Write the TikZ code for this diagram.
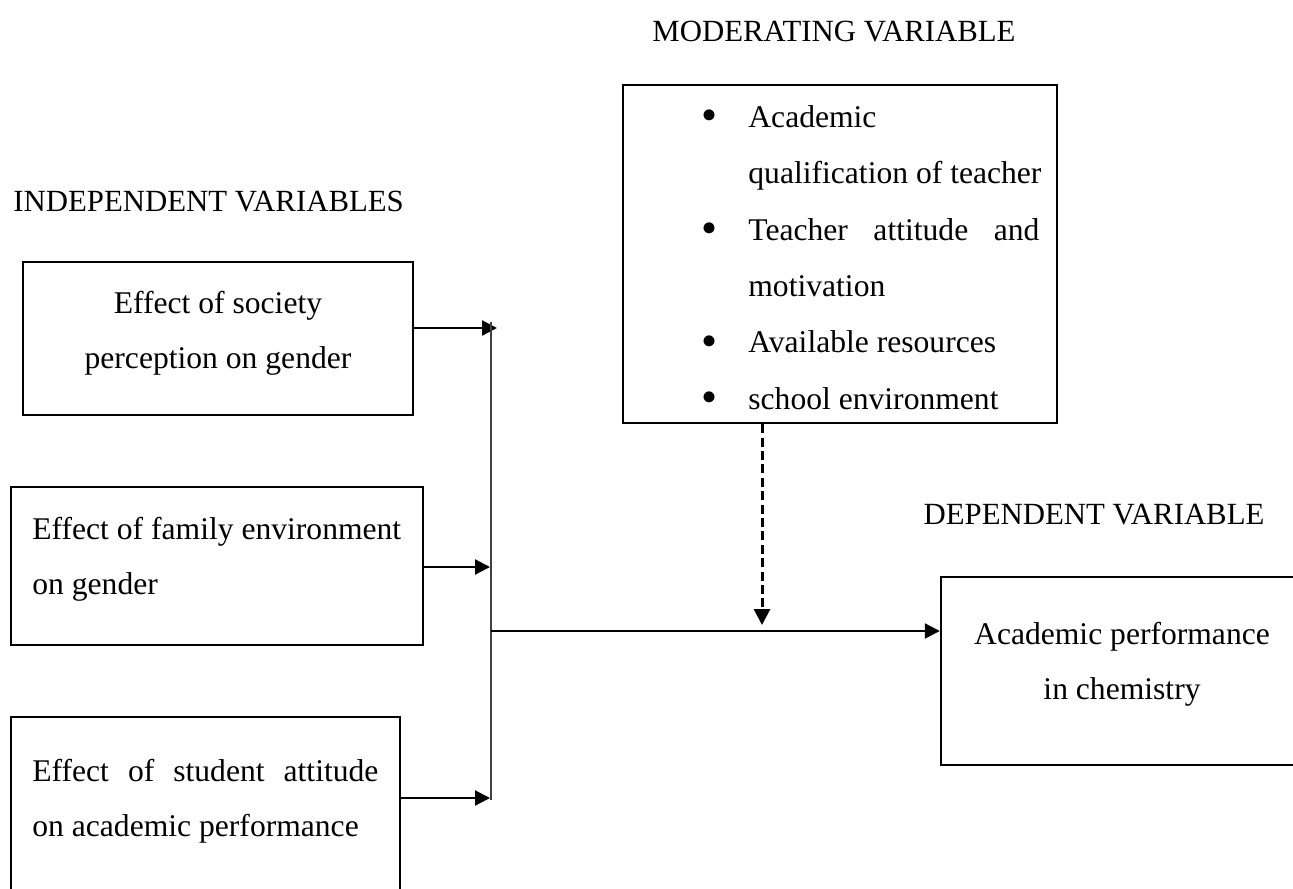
\documentclass[tikz,border=0pt]{standalone}
\usepackage{fontspec}
\setmainfont{Liberation Serif}
\usetikzlibrary{arrows.meta}
\newcommand{\mbul}{\makebox[23pt][l]{\hspace*{-0.5pt}\raisebox{-0.1em}{\scalebox{1.45}{\textbullet}}}}
\newcommand{\mgap}{\hspace*{23pt}}
\begin{document}
\begin{tikzpicture}[x=0.5pt,y=-0.5pt,
  box/.style={draw, line width=1.2pt, inner sep=0pt},
  txt/.style={inner sep=0pt, font=\fontsize{15.8}{27.5}\selectfont},
  ttl/.style={inner sep=0pt, font=\fontsize{15.4}{18}\selectfont},
  conn/.style={line width=1.1pt, -{Triangle[length=7.5pt,width=7.5pt]}},
  dconn/.style={line width=1.5pt, dash pattern=on 4.5pt off 2.2pt, -{Triangle[length=8pt,width=8pt]}},
  bus/.style={line width=0.7pt, draw=black!75}
  ]
\useasboundingbox (0,0) rectangle (1293,888);
\clip (0,0) rectangle (1293,888);

% titles
\node[ttl] (tm) at (834,32) {MODERATING VARIABLE};
\node[ttl, anchor=west] (ti) at (13,202) {INDEPENDENT VARIABLES};
\node[ttl] (tdv) at (1094,515) {DEPENDENT VARIABLE};

% boxes
\node[box, minimum width=195pt, minimum height=76.5pt] (b1) at (218,338.5) {};
\node[box, minimum width=206pt, minimum height=79pt] (b2) at (217,566) {};
\node[box, minimum width=194.5pt, minimum height=94pt] (b3) at (205.5,811) {};
\node[box, minimum width=217pt, minimum height=169pt] (m) at (840,254) {};
\node[box, minimum width=182pt, minimum height=94pt] (d) at (1123,671) {};

% texts
\node[txt, align=center] (t1) at (218,333.5) {Effect of society\\perception on gender};
\node[txt, align=left, anchor=west] (t2) at (32,559.5) {Effect of family environment\\on gender};
\node[txt, align=left, anchor=west] (t3) at (32,801) {\hbox to 173pt{Effect\hfill of\hfill student\hfill attitude}\\on academic performance};
\node[inner sep=0pt, font=\fontsize{15.8}{28.2}\selectfont, align=left, anchor=west] (tmod) at (702,259)
 {\mbul Academic\\
  \mgap qualification of teacher\\
  \mbul \hbox to 145.5pt{Teacher\hfill attitude\hfill and}\\
  \mgap motivation\\
  \mbul Available resources\\
  \mbul school environment};
\node[txt, align=center] (td) at (1122,664) {Academic performance\\in chemistry};

% junction coordinates
\coordinate (j1) at (497,328);
\coordinate (j2) at (490,567);
\coordinate (j3) at (490,798);
\coordinate (vtop) at (491,322);
\coordinate (vbot) at (491,800);
\coordinate (hstart) at (491,631);
\coordinate (dtip) at (762,625);

% connectors
\draw[conn] (b1.east |- j1) -- (j1);
\draw[conn] (b2.east |- j2) -- (j2);
\draw[conn] (b3.east |- j3) -- (j3);
\draw[bus] (vtop) -- (vbot);
\draw[conn] (hstart) -- (d.west |- hstart);
\draw[dconn] (m.south -| dtip) -- (dtip);
\end{tikzpicture}
\end{document}
